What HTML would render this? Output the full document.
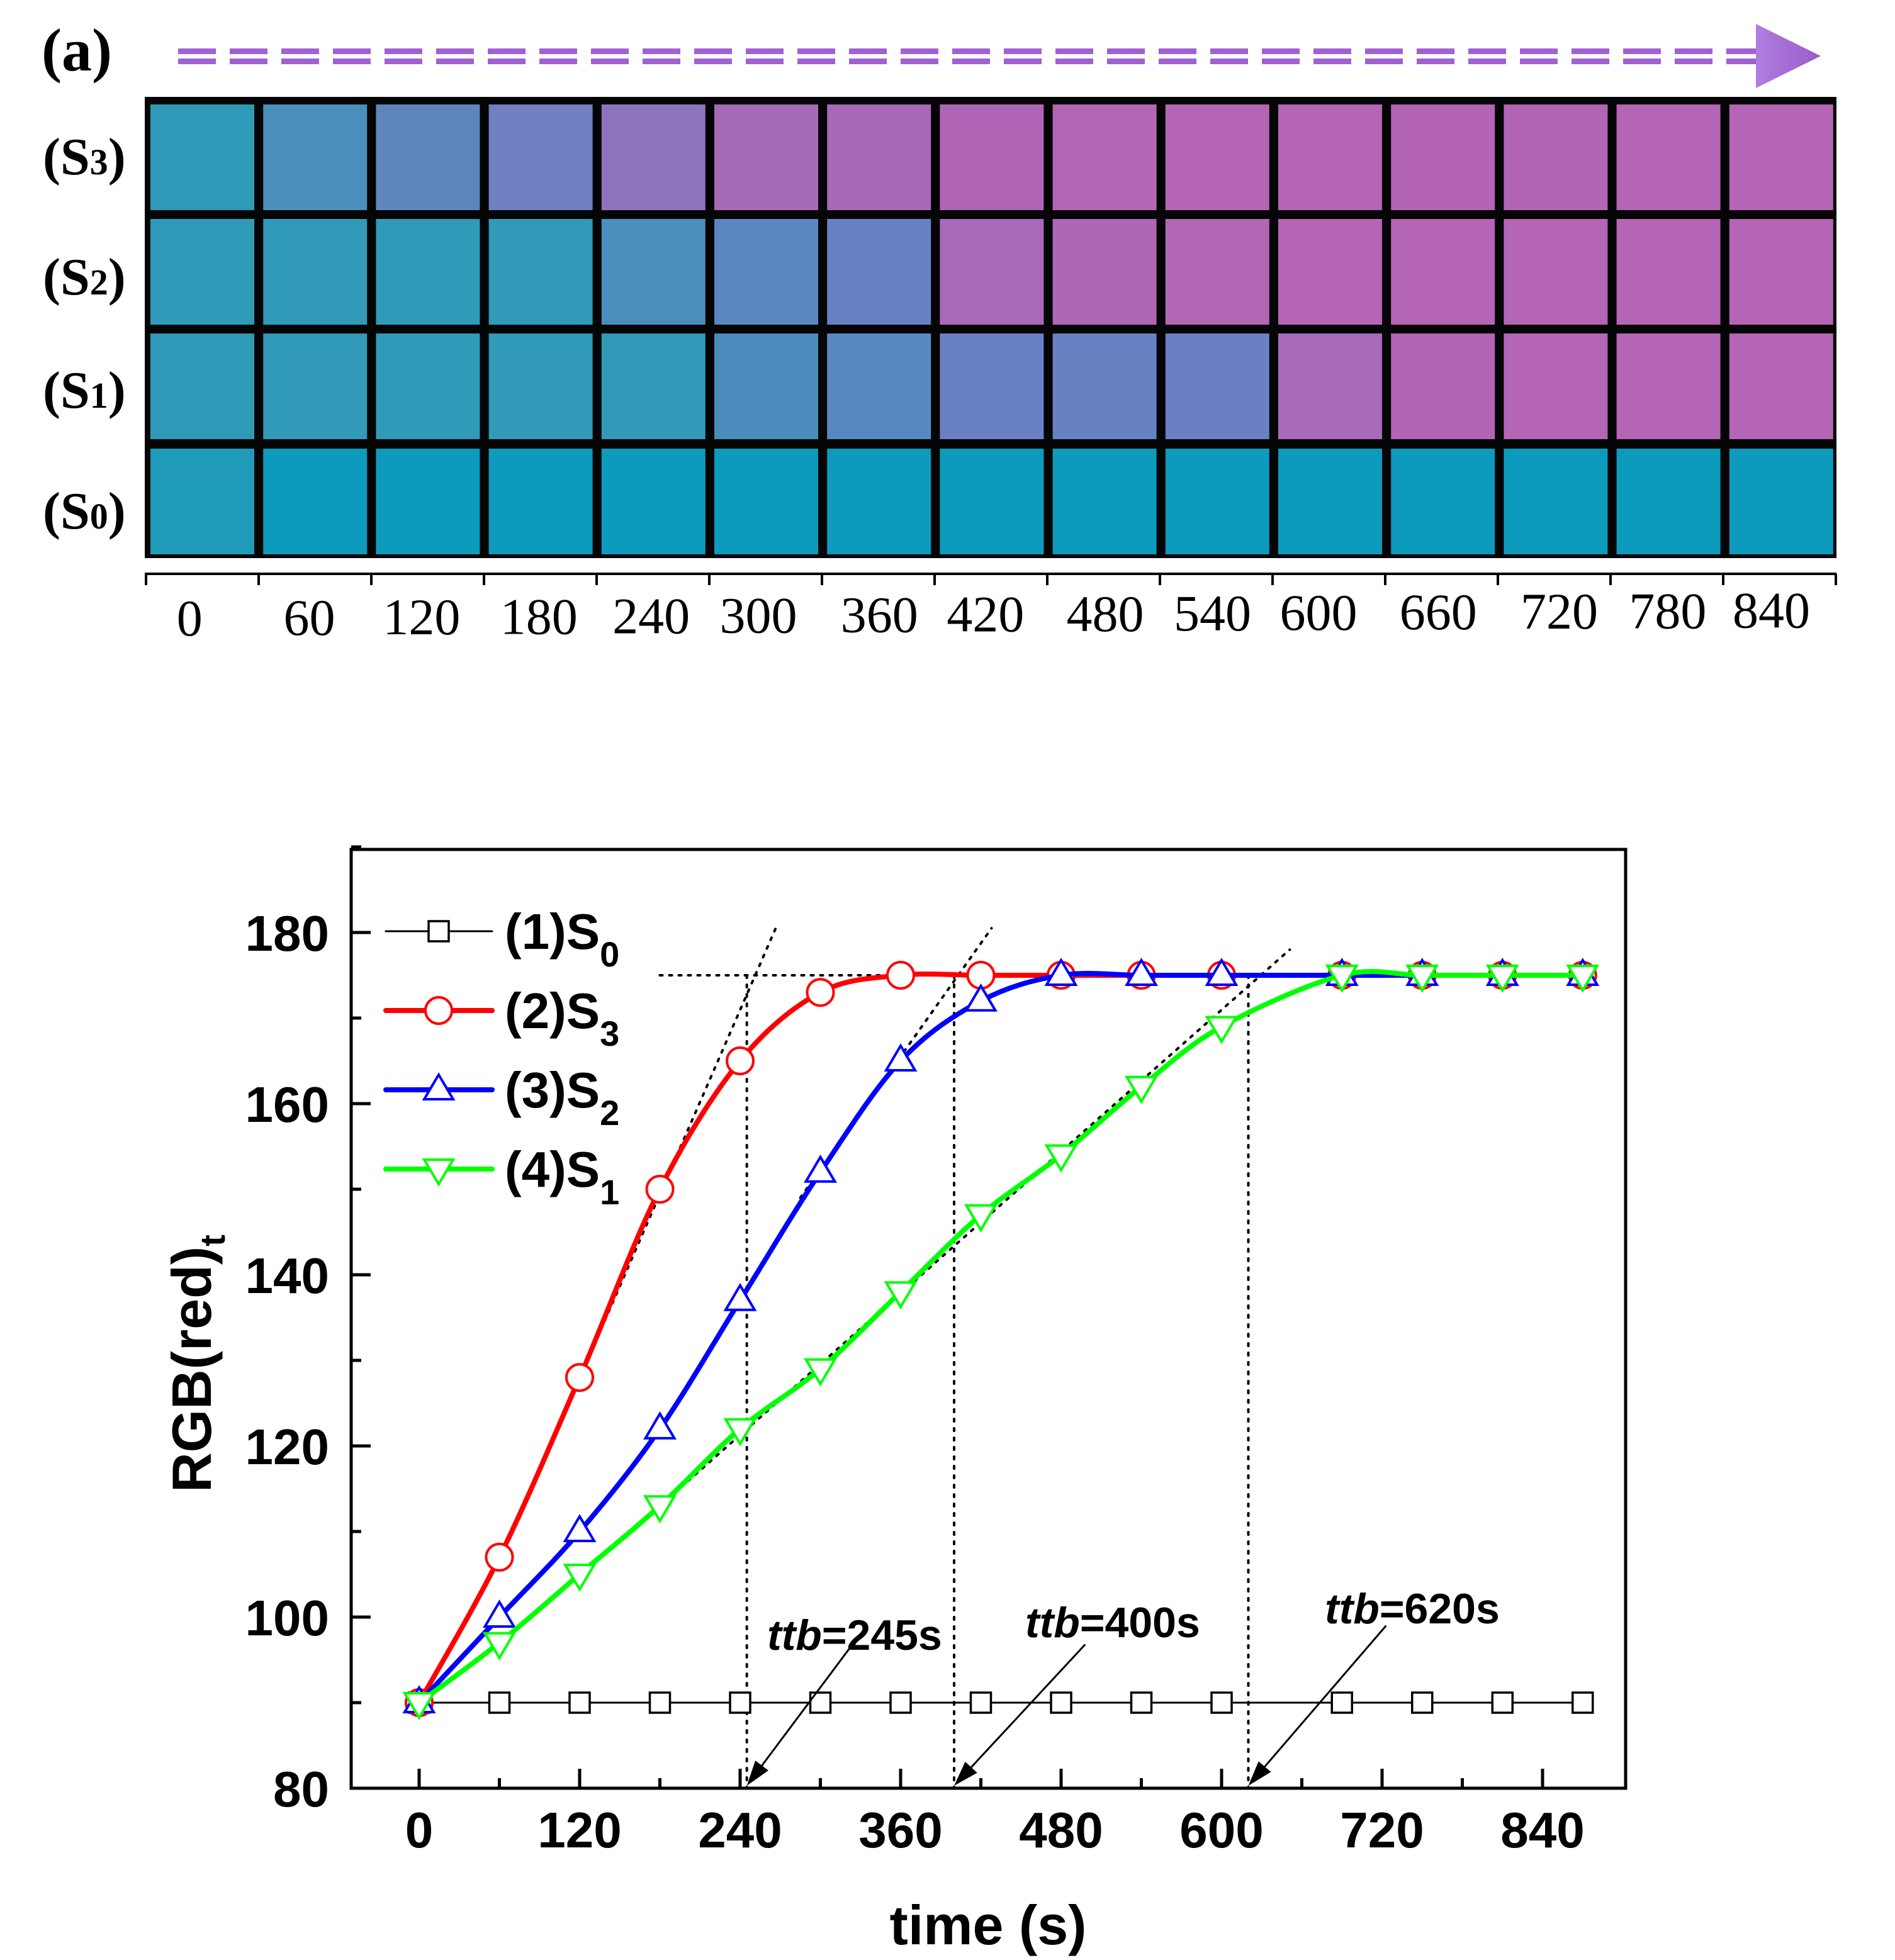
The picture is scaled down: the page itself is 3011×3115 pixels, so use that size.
<!DOCTYPE html>
<html><head><meta charset="utf-8"><style>
html,body{margin:0;padding:0;background:#fff;}
svg{display:block;}
text{font-family:"Liberation Sans",Arial,sans-serif;}
.serif{font-family:"Liberation Serif","Times New Roman",serif;}
</style></head><body>
<svg id="fig" xmlns="http://www.w3.org/2000/svg" width="3011" height="3115" viewBox="0 0 3011 3115">
<defs>
<linearGradient id="arrowGrad" x1="0" x2="1" y1="0" y2="0">
<stop offset="0" stop-color="#b07ee0"/><stop offset="1" stop-color="#9a5cc8"/>
</linearGradient>
</defs>
<g id="panelA">
<text x="66" y="112" class="serif" font-size="96" font-weight="bold">(a)</text>
<g id="dashArrow"></g>
<polygon points="2790,38 2893,89 2790,140" fill="url(#arrowGrad)"/>
<rect x="230" y="154" width="2688" height="733" fill="#050505"/>
<g id="cells"></g>
<g id="rowLabels"></g>
<g id="stripAxis"></g>
</g>
<g id="chart">
<rect x="558" y="1350" width="2025" height="1492" fill="none" stroke="#000" stroke-width="5"/>
<g id="ticks"></g>
<g id="guides"></g>
<g id="series"></g>
<g id="legend"></g>
<text x="1570" y="3090" text-anchor="middle" font-size="88" font-weight="bold">time (s)</text>
<text transform="translate(335,2167) rotate(-90)" text-anchor="middle" font-size="88" font-weight="bold">RGB(red)<tspan font-size="56" dy="22">t</tspan></text>
<g id="annot"></g>
</g>
</svg>
<script>
const NS='http://www.w3.org/2000/svg';
// ---- chart data ----
const times=[0,60,120,180,240,300,360,420,480,540,600,690,750,810,870];
const s0Vals=[90,90,90,90,90,90,90,90,90,90,90,90,90,90,90];
const s3Vals=[90,107,128,150,165,173,175,175,175,175,175,175,175,175,175];
const s2Vals=[90,100,110,122,137,152,165,172,175,175,175,175,175,175,175];
const s1Vals=[90,97,105,113,122,129,138,147,154,162,169,175,175,175,175];
const xTicks=[0,120,240,360,480,600,720,840];
const yTicks=[80,100,120,140,160,180];
const ttbVals=[245,400,620];
const ttbLabels=['=245s','=400s','=620s'];
const stripLabels=['0','60','120','180','240','300','360','420','480','540','600','660','720','780','840'];
const rowNames=['3','2','1','0'];
const rowS3=['#2f9ab8','#4a8fbb','#5e86bd','#7080c0','#8e74bd','#a66bb8','#a869b8','#b064b6','#b366b5','#b466b5','#b465b5','#b464b5','#b365b5','#b466b5','#b465b5'];
const rowS2=['#2f9ab8','#319ab8','#309bb8','#309ab8','#4a8ebc','#5c86c0','#6680c4','#a86ab9','#b066b6','#b366b5','#b465b5','#b465b5','#b465b5','#b465b5','#b465b5'];
const rowS1=['#2f9ab8','#309ab8','#309bb8','#309ab8','#309ab8','#4a8dbd','#5689c0','#6a80c4','#6682c2','#6c7ec4','#a86bba','#b265b5','#b465b5','#b465b5','#b465b5'];
const rowS0=['#1f9ab9','#0c9bbd','#0c9bbd','#0c9bbd','#0c9bbd','#0c9bbd','#0c9bbd','#0c9bbd','#0c9bbd','#0c9bbd','#0c9bbd','#0c9bbd','#0c9bbd','#0c9bbd','#0c9bbd'];

function mk(tag,attrs,parent){const e=document.createElementNS(NS,tag);for(const k in attrs)e.setAttribute(k,attrs[k]);parent.appendChild(e);return e;}
const X=t=>666+t*255/120;
const Y=v=>2842-(v-80)*13.6;

// ---- strip ----
const dash=document.getElementById('dashArrow');
for(let x=283;x<2790;x+=82){
  const a=mk('rect',{x:x,y:77,width:60,height:9,fill:'#9f62d0'},dash);
  
  
  const b=mk('rect',{x:x,y:93,width:60,height:9,fill:'#9f62d0'},dash);
  
  
}
const cells=document.getElementById('cells');
const rows=[rowS3,rowS2,rowS1,rowS0];
const rowY=[166,348,530,713];
rows.forEach((r,ri)=>{
  r.forEach((c,ci)=>{
    const e=mk('rect',{x:239+ci*179.2,y:rowY[ri],width:165,height:168,fill:c},cells);
    
    
  });
});
const rl=document.getElementById('rowLabels');
const rowCY=[248,439,619,811];
rowNames.forEach((n,i)=>{
  const t=mk('text',{x:68,y:rowCY[i]+29,'font-size':84,'font-weight':'bold',class:'serif'},rl);
  t.innerHTML='(S<tspan font-size="58">'+n+'</tspan>)';
  
  
});
const sa=document.getElementById('stripAxis');
mk('line',{x1:230,y1:912,x2:2918,y2:912,stroke:'#000','stroke-width':4},sa);
for(let i=0;i<=15;i++){mk('line',{x1:232+i*179,y1:912,x2:232+i*179,y2:930,stroke:'#000','stroke-width':4},sa);}
const labX=[152,248,338,432,522,608,705,790,886,972,1057,1153,1250,1337,1420];
stripLabels.forEach((s,i)=>{
  const t=mk('text',{x:labX[i]*1.982,y:1010-i*0.9,'text-anchor':'middle','font-size':82,class:'serif'},sa);
  t.textContent=s;
  
  
});

// ---- ticks ----
const tk=document.getElementById('ticks');
for(let t=0;t<=840;t+=60){
  const L=(t%120===0)?31:16;
  mk('line',{x1:X(t),y1:2842,x2:X(t),y2:2842-L,stroke:'#000','stroke-width':5},tk);
}
for(let v=80;v<=190;v+=10){
  const L=(v%20===0)?31:16;
  mk('line',{x1:558,y1:Y(v),x2:558+L,y2:Y(v),stroke:'#000','stroke-width':5},tk);
}
xTicks.forEach(t=>{
  const e=mk('text',{x:X(t),y:2936,'text-anchor':'middle','font-size':80,'font-weight':'bold'},tk);
  e.textContent=t;
  
  
});
yTicks.forEach(v=>{
  const e=mk('text',{x:523,y:Y(v)+29,'text-anchor':'end','font-size':80,'font-weight':'bold'},tk);
  e.textContent=v;
  
  
});

// ---- guides ----
const g=document.getElementById('guides');
const dot={stroke:'#000','stroke-width':4,'stroke-dasharray':'4 11','stroke-linecap':'round',fill:'none'};
function dl(x1,y1,x2,y2,name){const e=mk('line',Object.assign({x1,y1,x2,y2},dot),g);}
dl(X(180),Y(175),X(870),Y(175),'plateau-line');
dl(X(105),Y(122.5),X(268),Y(181),'tangent-s3');
dl(X(285),Y(149),X(428),Y(180.5),'tangent-s2');
dl(X(180),Y(113),X(651),Y(178),'tangent-s1');
ttbVals.forEach(v=>dl(X(v),Y(175),X(v),2842,'ttb-drop-line'));

// ---- series ----
const sg=document.getElementById('series');
function spline(vals){
  const p=times.map((t,i)=>[X(t),Y(vals[i])]);
  let d='M'+p[0][0]+','+p[0][1];
  for(let i=0;i<p.length-1;i++){
    const p0=p[i-1]||p[i],p1=p[i],p2=p[i+1],p3=p[i+2]||p[i+1];
    const c1=[p1[0]+(p2[0]-p0[0])/6,p1[1]+(p2[1]-p0[1])/6];
    const c2=[p2[0]-(p3[0]-p1[0])/6,p2[1]-(p3[1]-p1[1])/6];
    d+=` C${c1[0]},${c1[1]} ${c2[0]},${c2[1]} ${p2[0]},${p2[1]}`;
  }
  return d;
}
function marker(kind,x,y,color,parent){
  let e;
  if(kind==='square')e=mk('rect',{x:x-16,y:y-16,width:32,height:32,fill:'#fff',stroke:color,'stroke-width':3.5},parent);
  if(kind==='circle')e=mk('circle',{cx:x,cy:y,r:21,fill:'#fff',stroke:color,'stroke-width':4},parent);
  if(kind==='up')e=mk('polygon',{points:`${x},${y-24} ${x+23},${y+15} ${x-23},${y+15}`,fill:'#fff',stroke:color,'stroke-width':4},parent);
  if(kind==='down')e=mk('polygon',{points:`${x},${y+24} ${x+23},${y-15} ${x-23},${y-15}`,fill:'#fff',stroke:color,'stroke-width':4},parent);
  
  
}
const S=[[s0Vals,'#000',3,'square','s0'],[s3Vals,'#ff0000',8,'circle','s3'],[s2Vals,'#0000ff',8,'up','s2'],[s1Vals,'#00ff00',8,'down','s1']];
S.forEach(([vals,col,w,m,nm])=>{
  const grp=mk('g',{},sg);
  
  
  const p=mk('path',{d:spline(vals),fill:'none',stroke:col,'stroke-width':w},grp);
  
  
  times.forEach((t,i)=>marker(m,X(t),Y(vals[i]),col,grp));
});

// ---- legend ----
const lg=document.getElementById('legend');
const legNames=[['1','0'],['2','3'],['3','2'],['4','1']];
S.forEach(([vals,col,w,m,nm],i)=>{
  const y=1480+i*126;
  const ent=mk('g',{},lg);
  
  
  mk('line',{x1:613,y1:y,x2:782,y2:y,stroke:col,'stroke-width':w,'stroke-linecap':'round'},ent);
  marker(m,697,y,col,ent);
  const t=mk('text',{x:802,y:y+28,'font-size':80,'font-weight':'bold'},ent);
  t.innerHTML='('+legNames[i][0]+')S<tspan font-size="56" dy="28">'+legNames[i][1]+'</tspan>';
});

// ---- annotations ----
const an=document.getElementById('annot');
const labPos=[[1219,2622],[1629,2602],[2105,2580]];
const arrStart=[[324,96.8],[498,96.8],[723,99]];
ttbVals.forEach((v,i)=>{
  const t=mk('text',{x:labPos[i][0],y:labPos[i][1],'font-size':68,'font-weight':'bold'},an);
  t.innerHTML='<tspan font-style="italic">ttb</tspan>'+ttbLabels[i];
  
  
  const x1=X(arrStart[i][0]),y1=Y(arrStart[i][1]),x2=X(v),y2=2838;
  const ang=Math.atan2(y2-y1,x2-x1);
  const hx=x2-40*Math.cos(ang),hy=y2-40*Math.sin(ang);
  const ln=mk('line',{x1,y1,x2:hx,y2:hy,stroke:'#000','stroke-width':3},an);
  
  
  const px=-Math.sin(ang)*13,py=Math.cos(ang)*13;
  const hd=mk('polygon',{points:`${x2},${y2} ${hx+px},${hy+py} ${hx-px},${hy-py}`,fill:'#000'},an);
  
  
});
</script>
</body></html>
